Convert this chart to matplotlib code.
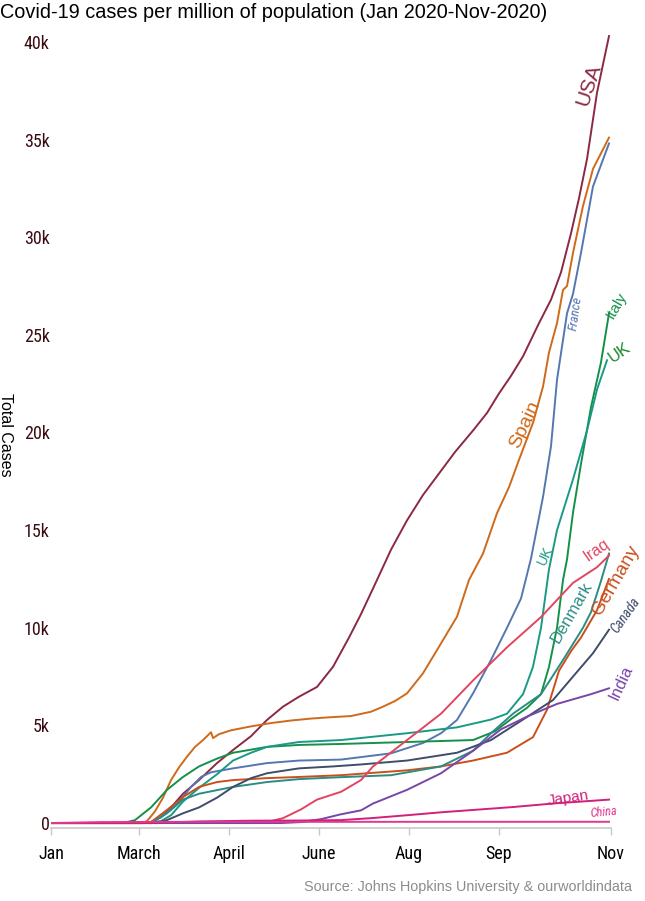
import matplotlib
matplotlib.use("Agg")
import matplotlib.font_manager as fm
import matplotlib.pyplot as plt

# day index 0 = Jan, 280 = Nov (axis is evenly ticked like the original)
TICK_DAYS = [0, 44, 89, 134, 179, 224, 280]
TICK_LABELS = ["Jan", "March", "April", "June", "Aug", "Sep", "Nov"]
Y_TICKS = [0, 5000, 10000, 15000, 20000, 25000, 30000, 35000, 40000]
Y_LABELS = ["0", "5k", "10k", "15k", "20k", "25k", "30k", "35k", "40k"]

usa_days = [0, 45, 50, 55, 60, 66, 74, 83, 91, 100, 108, 116, 124, 133, 141, 149, 155,
            163, 170, 178, 186, 194, 202, 211, 218, 224, 230, 236, 244, 250, 255, 260,
            264, 268, 273, 279]
usa_vals = [0, 0, 50, 300, 800, 1500, 2200, 3070, 3740, 4450, 5280, 5960, 6470, 6970,
            8000, 9500, 10700, 12450, 14000, 15500, 16800, 17900, 19000, 20100, 21000,
            22000, 22900, 23900, 25600, 26800, 28200, 30200, 32000, 34000, 37400, 40300]

spain_days = [0, 45, 48, 52, 56, 60, 64, 68, 72, 76, 80, 81, 84, 90, 100, 110, 120, 130,
              140, 150, 160, 166, 172, 178, 186, 194, 203, 209, 216, 223, 229, 234, 241,
              246, 249, 253, 256, 258, 261, 266, 271, 279]
spain_vals = [0, 0, 100, 600, 1300, 2200, 2850, 3400, 3900, 4250, 4650, 4350, 4550, 4750,
              4950, 5120, 5250, 5350, 5420, 5480, 5700, 5960, 6250, 6640, 7670, 9030,
              10570, 12450, 13800, 15870, 17200, 18600, 20500, 22350, 24100, 25600, 27300,
              27500, 29200, 31600, 33500, 35100]

france_days = [0, 46, 50, 55, 60, 65, 70, 75, 80, 91, 108, 124, 145, 170, 186, 195, 203,
               211, 220, 228, 235, 240, 246, 250, 253, 258, 261, 265, 271, 279]
france_vals = [0, 0, 60, 300, 700, 1200, 1850, 2360, 2600, 2800, 3070, 3200, 3250, 3570,
               4100, 4600, 5280, 6640, 8350, 10000, 11500, 13550, 16700, 19300, 22700,
               26100, 27100, 29200, 32600, 34800]

italy_days = [0, 36, 42, 50, 58, 66, 74, 83, 91, 108, 124, 145, 178, 211, 222, 231, 238,
              245, 249, 253, 256, 258, 261, 265, 270, 275, 279]
italy_vals = [0, 0, 150, 800, 1700, 2360, 2900, 3300, 3600, 3900, 4000, 4050, 4150, 4250,
              4700, 5400, 5900, 6600, 8000, 10000, 12450, 13500, 15900, 18400, 21300,
              23600, 26100]

uk_days = [0, 45, 55, 60, 66, 74, 83, 91, 100, 108, 124, 145, 178, 203, 220, 228, 236,
           241, 245, 249, 253, 261, 268, 273, 278]
uk_vals = [0, 0, 100, 400, 1100, 1800, 2500, 3200, 3600, 3900, 4150, 4250, 4600, 4900,
           5300, 5600, 6600, 8000, 10000, 13000, 15000, 17600, 20100, 22200, 23700]

germany_days = [0, 46, 50, 58, 66, 74, 83, 91, 108, 124, 145, 178, 195, 211, 228, 241,
                248, 254, 260, 265, 273, 279]
germany_vals = [0, 0, 50, 670, 1330, 1850, 2100, 2200, 2300, 2360, 2450, 2700, 2900, 3200,
                3600, 4400, 5800, 7800, 8800, 9500, 10900, 12500]

denmark_days = [0, 50, 58, 66, 74, 91, 108, 124, 145, 170, 195, 211, 220, 231, 245, 256,
                266, 270, 275, 279]
denmark_vals = [0, 0, 500, 1200, 1500, 1850, 2100, 2250, 2350, 2450, 2900, 3700, 4600,
                5600, 6600, 8350, 10000, 10800, 12400, 13800]

canada_days = [0, 52, 58, 66, 74, 83, 91, 100, 108, 124, 141, 155, 178, 203, 220, 236, 251,
               261, 271, 279]
canada_vals = [0, 0, 150, 500, 800, 1300, 1850, 2300, 2550, 2800, 2900, 3000, 3200, 3600,
               4250, 5300, 6300, 7500, 8700, 9900]

iraq_days = [0, 100, 110, 116, 125, 133, 145, 155, 161, 178, 195, 211, 228, 245, 261, 273, 279]
iraq_vals = [0, 0, 100, 250, 700, 1200, 1600, 2200, 2900, 4250, 5600, 7300, 9000, 10550,
             12300, 13100, 13700]

india_days = [0, 115, 125, 135, 145, 155, 161, 178, 195, 211, 225, 238, 253, 270, 279]
india_vals = [0, 0, 50, 200, 450, 650, 1000, 1700, 2550, 3700, 4800, 5450, 6100, 6600, 6900]

japan_days = [0, 50, 73, 100, 125, 145, 160, 178, 195, 211, 231, 251, 265, 279]
japan_vals = [0, 0, 80, 120, 130, 150, 250, 400, 550, 670, 820, 1000, 1100, 1200]

china_days = [0, 25, 60, 279]
china_vals = [0, 50, 60, 65]

SERIES = [
    ("USA", usa_days, usa_vals, "#8b2942"),
    ("Spain", spain_days, spain_vals, "#cf6a1a"),
    ("France", france_days, france_vals, "#5477b0"),
    ("Italy", italy_days, italy_vals, "#159048"),
    ("UK", uk_days, uk_vals, "#1a9a85"),
    ("Germany", germany_days, germany_vals, "#c9501c"),
    ("Denmark", denmark_days, denmark_vals, "#2c8c84"),
    ("Canada", canada_days, canada_vals, "#3f4d6b"),
    ("Iraq", iraq_days, iraq_vals, "#e2455f"),
    ("India", india_days, india_vals, "#7a45a8"),
    ("Japan", japan_days, japan_vals, "#d0207a"),
    ("China", china_days, china_vals, "#e0388f"),
]

# text, day, value, rotation, size, colour, italic
LABELS = [
    ("USA", 269, 37800, 72, 15, "#8b2942", False),
    ("France", 262.5, 26100, 82, 9.5, "#5477b0", True),
    ("Italy", 283, 26500, 60, 11, "#159048", False),
    ("UK", 284.5, 24100, 35, 12, "#1b8a2c", False),
    ("Spain", 237, 20400, 65, 14, "#cf6a1a", False),
    ("UK", 247, 13700, 65, 10, "#1a9a85", False),
    ("Iraq", 273, 14000, 35, 11.5, "#e2455f", False),
    ("Denmark", 260.5, 10800, 60, 12, "#2c8c84", False),
    ("Germany", 282.5, 12450, 60, 13.5, "#c9501c", False),
    ("Canada", 287.5, 10650, 55, 10, "#3f4d6b", True),
    ("India", 285, 7170, 65, 12, "#7a45a8", False),
    ("Japan", 258.5, 1280, 8, 11, "#d0207a", False),
    ("China", 276.5, 560, 5, 9, "#e0388f", True),
]

REGULAR = ["Liberation Sans", "DejaVu Sans"]
installed = {f.name for f in fm.fontManager.ttflist}
narrow_name = next((n for n in ["Liberation Sans Narrow", "Arial Narrow", "Roboto Condensed",
                                "Open Sans Condensed"] if n in installed), None)
NARROW = [narrow_name] + REGULAR if narrow_name else REGULAR
TICK_SIZE = 13 if narrow_name else 12

plt.rcParams["font.family"] = REGULAR

fig = plt.figure(figsize=(6.45, 9.01), dpi=100)
ax = fig.add_axes([0.0791, 0.0811, 0.8682, 0.8832])

for name, days, vals, color in SERIES:
    ax.plot(days, vals, color=color, lw=1.4, solid_joinstyle="round")

for text, d, v, rot, size, color, italic in LABELS:
    ax.text(d, v, text, rotation=rot, fontsize=size, color=color,
            ha="center", va="center", rotation_mode="anchor",
            family=NARROW if italic else REGULAR,
            style="italic" if italic else "normal", clip_on=False)

ax.set_xlim(0, 280)
ax.set_ylim(-250, 40500)
for side in ("top", "right", "left"):
    ax.spines[side].set_visible(False)
ax.spines["bottom"].set_color("#c8c8c8")
ax.spines["bottom"].set_linewidth(1.2)

ax.set_xticks(TICK_DAYS)
ax.set_xticklabels(TICK_LABELS, family=NARROW, fontsize=TICK_SIZE, color="black")
ax.tick_params(axis="x", length=5, width=1, color="#c8c8c8", pad=7)
ax.set_yticks(Y_TICKS)
ax.set_yticklabels(Y_LABELS, family=NARROW, fontsize=TICK_SIZE, color="#3b0b14")
ax.tick_params(axis="y", length=0, pad=1)

fig.text(0.0, 1 - 12 / 901, "Covid-19 cases per million of population (Jan 2020-Nov-2020)",
         ha="left", va="center", fontsize=14.3, color="black")
fig.text(0.009, 1 - 435 / 901, "Total Cases", rotation=270, ha="center", va="center",
         fontsize=11.5, color="black")
fig.text(0.98, 1 - 887 / 901, "Source: Johns Hopkins University & ourworldindata",
         ha="right", va="center", fontsize=10.4, color="#8c8c8c")

fig.savefig("out.png", dpi=100)
